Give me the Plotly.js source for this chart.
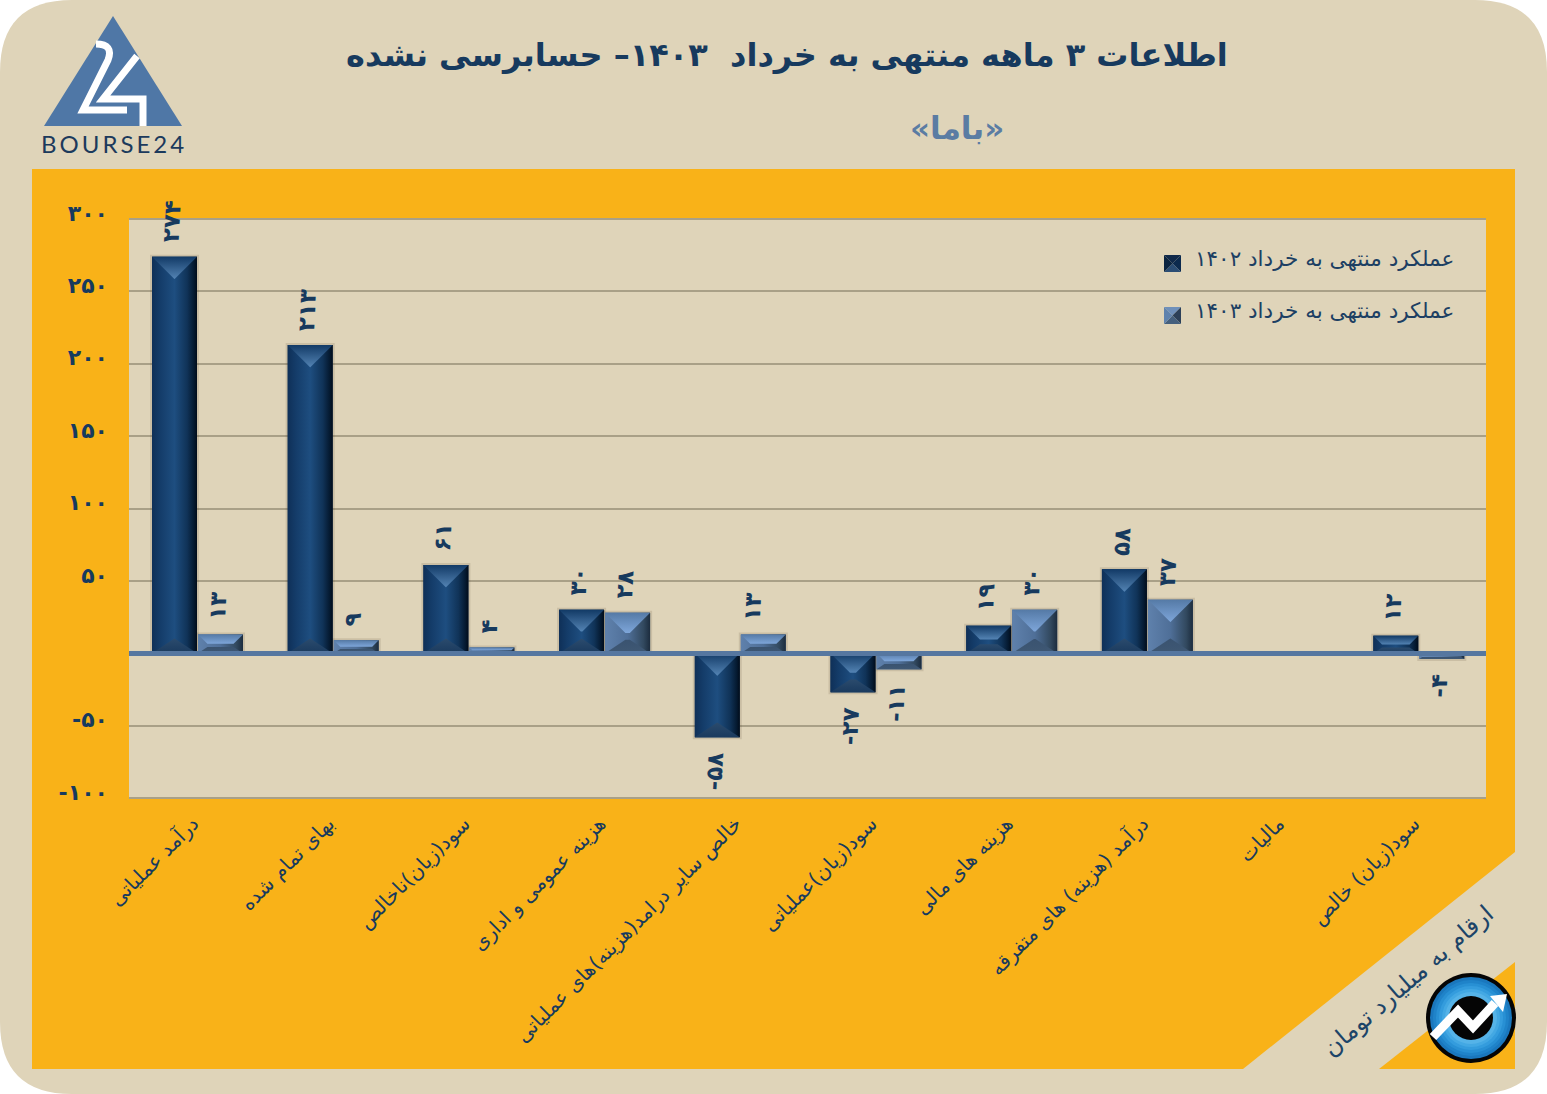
<!DOCTYPE html>
<html><head><meta charset="utf-8">
<script src="https://cdn.plot.ly/plotly-3.0.1.min.js"></script>
<style>html,body{margin:0;padding:0;background:#fff}#chart{width:1547px;height:1094px}</style>
</head><body><div id="chart"></div>
<script>
const categories = ['درآمد عملیاتی','بهای تمام شده','سود(زیان)ناخالص','هزینه عمومی و اداری','خالص سایر درامد(هزینه)های عملیاتی','سود(زیان)عملیاتی','هزینه های مالی','درآمد (هزینه) های متفرقه','مالیات','سود(زیان) خالص'];
const values1402 = [274,213,61,30,-58,-27,19,58,null,12];
const values1403 = [13,9,4,28,13,-11,30,37,null,-4];
const name1402 = 'عملکرد منتهی به خرداد ۱۴۰۲';
const name1403 = 'عملکرد منتهی به خرداد ۱۴۰۳';
const yTicks = [-100,-50,50,100,150,200,250,300];
const titleText = 'اطلاعات ۳ ماهه منتهی به خرداد  ۱۴۰۳– حسابرسی نشده';
const subtitleText = '«باما»';
const unitText = 'ارقام به میلیارد تومان';

const fa = v => String(v).replace(/\d/g, d => '۰۱۲۳۴۵۶۷۸۹'[+d]);
const L=129,R=1486,T=218,B=799,catPx=(R-L)/10,unitPx=(B-T)/401.4;
const px = x => (x-L)/(R-L), py = y => (B-y)/(B-T);
const navy='#173a5e';
const FONT='"DejaVu Sans", sans-serif';

const series=[
 {name:name1402,vals:values1402,off:-0.3305,w:0.3316,base:'#12355f',
  body:[[0,'#0f3058'],[0.18,'#143c69'],[0.5,'#1e4e80'],[0.78,'#103358'],[0.93,'#051a31'],[1,'#010c1a']],
  top:[[0,'#123a66'],[1,'#5484b4']],bottom:[[0,'#1a3a5e'],[1,'#2b4b6d']]},
 {name:name1403,vals:values1403,off:0.0085,w:0.3316,base:'#4d6f9b',
  body:[[0,'#5f81ac'],[0.5,'#4f6f98'],[0.85,'#32495f'],[1,'#1c2c3e']],
  top:[[0,'#557aa6'],[1,'#7ea6da']],bottom:[[0,'#3f5874'],[1,'#3a5370']]}
];
const traces=[], annotations=[];
const poly=(xs,ys,grad)=>({type:'scatter',mode:'lines',x:[...xs,xs[0]],y:[...ys,ys[0]],fill:'toself',line:{width:0},fillgradient:grad,hoverinfo:'skip',showlegend:false});

series.forEach(s=>{
  traces.push({type:'bar',name:s.name,x:categories.map((_,i)=>i),y:s.vals,offset:s.off,width:s.w,
    marker:{color:s.base,line:{color:'rgba(60,48,25,0.13)',width:4}},showlegend:false,hoverinfo:'x+y'});
});
series.forEach(s=>{
  s.vals.forEach((v,i)=>{
    if(v===null) return;
    const x0=i+s.off,x1=x0+s.w,xc=(x0+x1)/2,yt=Math.max(v,0),yb=Math.min(v,0);
    const h=(yt-yb)*unitPx;
    const d=Math.min(22.4,h/2),dx=d/catPx,dt=d/unitPx,db=dt*0.66;
    traces.push(poly([x0,x1,x1,x0],[yb,yb,yt,yt],{type:'horizontal',colorscale:s.body,start:x0,stop:x1}));
    traces.push(poly([x0,x1,x1-dx,x0+dx],[yt,yt,yt-dt,yt-dt],{type:'vertical',colorscale:s.top,start:yt,stop:yt-dt}));
    traces.push(poly([x0,x1,x1-dx,x0+dx],[yb,yb,yb+db,yb+db],{type:'vertical',colorscale:s.bottom,start:yb,stop:yb+db}));
    const extra=(s===series[1]&&i===4)?-8:0;
    annotations.push({xref:'x',yref:'y',x:xc,y:v,text:fa(v),showarrow:false,textangle:-87,
      xshift:-3+extra,yshift:v>0?11:-12,xanchor:'center',yanchor:v>0?'bottom':'top',
      font:{family:FONT,size:23,weight:700,color:navy}});
  });
});

const note=(x,y,text,size,color,opt={})=>annotations.push(Object.assign({xref:'paper',yref:'paper',x:px(x),y:py(y),text,showarrow:false,xanchor:'center',yanchor:'middle',font:{family:FONT,size,color}},opt));
note(787,55,titleText,32,navy,{font:{family:FONT,size:32,weight:700,color:navy}});
note(957,128,subtitleText,31,'#5b7ca3',{font:{family:FONT,size:31,weight:700,color:'#5b7ca3'}});
note(1193,258,name1402,21.5,'#1c3f63',{xanchor:'left'});
note(1193,310,name1403,21.5,'#1c3f63',{xanchor:'left'});
note(1408,981,unitText,24,'#1c4468',{textangle:-40.8});
note(112.5,144,'B\u2009O\u2009U\u2009R\u2009S\u2009E\u20092\u20094',24,'#1c3a5c',{font:{family:'Lato, sans-serif',size:24,color:'#1c3a5c'}});

const pathPx=pts=>'M'+pts.map(p=>px(p[0])+','+py(p[1])).join('L')+'Z';
const fillShape=(d,fill,layer='below')=>({type:'path',xref:'paper',yref:'paper',path:d,fillcolor:fill,line:{width:0},layer});
const W=1547,H=1094,r=72;
const cx=(x,y)=>px(x)+','+py(y);
const card='M'+cx(r,0)+'L'+cx(W-r,0)+'Q'+cx(W,0)+' '+cx(W,r)+'L'+cx(W,H-r)+'Q'+cx(W,H)+' '+cx(W-r,H)+'L'+cx(r,H)+'Q'+cx(0,H)+' '+cx(0,H-r)+'L'+cx(0,r)+'Q'+cx(0,0)+' '+cx(r,0)+'Z';
const circle=(x,y,rad,fill,layer='above')=>({type:'circle',xref:'paper',yref:'paper',x0:px(x-rad),x1:px(x+rad),y0:py(y+rad),y1:py(y-rad),fillcolor:fill,line:{width:0},layer});
const stroke=(pts,c,w)=>({type:'path',xref:'paper',yref:'paper',path:'M'+pts.map(p=>cx(p[0],p[1])).join('L'),line:{color:c,width:w},fillcolor:'rgba(0,0,0,0)',layer:'above'});
const sq=(x,y,s,cols)=>{const a=[x,y],b=[x+s,y],c=[x+s,y+s],e=[x,y+s],m=[x+s/2,y+s/2];
  return [[a,b,m],[b,c,m],[c,e,m],[e,a,m]].map((t,i)=>fillShape(pathPx(t),cols[i],'above'));};
const ringColors=[[41,'#1a77bd'],[38,'#1f83c9'],[35,'#2890d4'],[32,'#349cdd'],[29,'#43a8e3'],[26,'#55b3e8']];

const shapes=[
  fillShape(card,'#dfd4b9'),
  fillShape(pathPx([[32,169],[1515,169],[1515,852],[1243,1069],[32,1069]]),'#f9b218'),
  fillShape(pathPx([[1515,962],[1515,1069],[1379,1069]]),'#f9b218'),
  fillShape(pathPx([[L,T+1],[R,T+1],[R,B-1],[L,B-1]]),'#dfd4b9'),
  // logo
  fillShape(pathPx([[113,16],[182,126],[44,126]]),'#4f77a6'),
  {type:'path',xref:'paper',yref:'paper',layer:'below',fillcolor:'rgba(0,0,0,0)',line:{color:'#fff',width:7},
   path:'M'+cx(96,44)+'Q'+cx(114,44)+' '+cx(108,60)+'L'+cx(83,110)+'L'+cx(127,110)},
  {type:'path',xref:'paper',yref:'paper',layer:'below',fillcolor:'rgba(0,0,0,0)',line:{color:'#fff',width:7},
   path:'M'+cx(137,56)+'L'+cx(103,99)+'L'+cx(143,99)+'L'+cx(143,126)},
  // badge
  circle(1471,1018,45,'#050505'),
  ...ringColors.map(c=>circle(1471,1018,c[0],c[1])),
  circle(1471,1018,22,'#050505'),
  stroke([[1433,1037],[1458,1011],[1473,1027],[1495,1003]],'#fff',9),
  fillShape(pathPx([[1490,996],[1507,994],[1503,1012]]),'#fff','above'),
  ...sq(1164,255,17,['#10294a','#0c2a4e','#2b4d74','#0b2440']),
  ...sq(1164,307,17,['#6f90ba','#2c4058','#45607e','#5f82ad'])
];

const layout={
  width:W,height:H,margin:{l:L,r:W-R,t:T,b:H-B,pad:0},autosize:false,
  paper_bgcolor:'#ffffff',plot_bgcolor:'rgba(0,0,0,0)',barmode:'overlay',showlegend:false,
  font:{family:FONT,color:navy},
  xaxis:{type:'linear',range:[-0.5,9.5],tickmode:'array',tickvals:categories.map((_,i)=>i),ticktext:categories,
    tickangle:-45,tickfont:{family:FONT,size:20,color:navy},ticks:'',showgrid:false,zeroline:false,showline:false,automargin:false,fixedrange:true,ticklabelstandoff:8,ticklabelshift:-4},
  yaxis:{type:'linear',range:[-100.7,300.7],tickmode:'array',tickvals:yTicks,ticktext:yTicks.map(fa),
    tickfont:{family:FONT,size:22,weight:700,color:navy},ticks:'',showgrid:true,gridcolor:'#a9a087',gridwidth:1.5,
    zeroline:true,zerolinecolor:'#5677a0',zerolinewidth:5,zerolinelayer:'above traces',showline:false,automargin:false,fixedrange:true,ticklabelstandoff:20,ticklabelshift:-6},
  shapes,annotations
};
Plotly.newPlot('chart',traces,layout,{displayModeBar:false,staticPlot:false});
</script></body></html>
